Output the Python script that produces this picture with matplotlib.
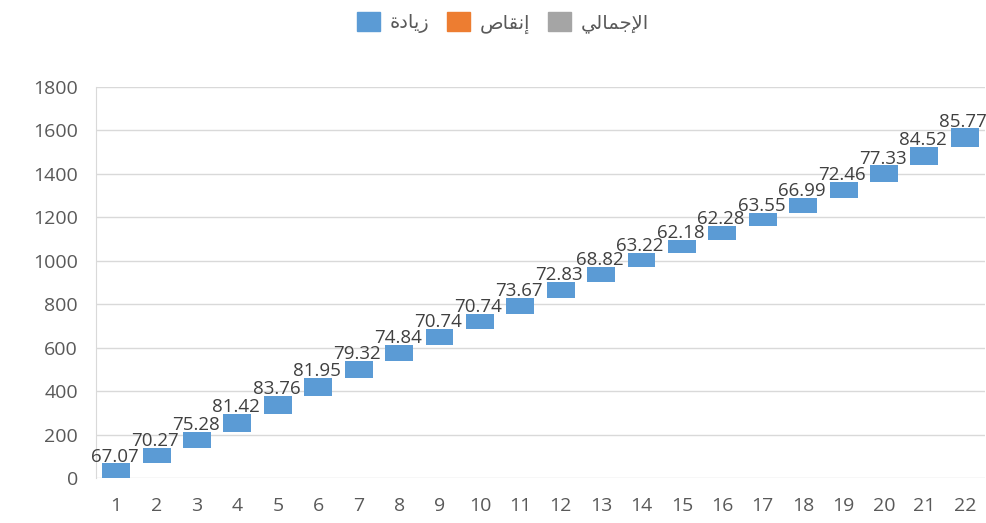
import matplotlib.pyplot as plt
from matplotlib.patches import Patch

# Waterfall data (increments per step)

steps = list(range(1, 23))
increments = [67.07, 70.27, 75.28, 81.42, 83.76, 81.95, 79.32, 74.84, 70.74, 70.74,
              73.67, 72.83, 68.82, 63.22, 62.18, 62.28, 63.55, 66.99, 72.46, 77.33,
              84.52, 85.77]
y_ticks = [0, 200, 400, 600, 800, 1000, 1200, 1400, 1600, 1800]

# Legend labels, Arabic in presentation forms (visual order) since matplotlib has no shaping
legend_labels = ["\uFE93\uFEA9\uFE8E\uFEF3\uFEAF",              # زيادة
                 "\uFEB9\uFE8E\uFED8\uFEE7\uFE87",              # إنقاص
                 "\uFEF2\uFEDF\uFE8E\uFEE4\uFE9F\uFEF9\uFE8D"]  # الإجمالي

blue = "#5b9bd5"
orange = "#ed7d31"
gray = "#a5a5a5"

# Cumulative starts

bottoms = []
total = 0
for v in increments:
    bottoms.append(total)
    total += v

fig = plt.figure(figsize=(9.87, 5.23), dpi=100)
ax = fig.add_axes([96 / 987, 1 - 478 / 523, 889 / 987, (478 - 87) / 523])

ax.bar(steps, increments, bottom=bottoms, width=0.69, color=blue, zorder=3)

for x, b, v in zip(steps, bottoms, increments):
    ax.annotate(f"{v:.2f}", (x, b + v), xytext=(-1, -1.5), textcoords="offset points",
                ha="center", va="bottom", fontsize=13.5, color="#404040",
                family="Open Sans", zorder=4, annotation_clip=False)

ax.set_xlim(0.5, 22.5)
ax.set_ylim(0, 1800)
ax.set_yticks(y_ticks)
ax.set_xticks(steps)
ax.grid(axis="y", color="#d9d9d9", linewidth=1, zorder=0)
ax.tick_params(axis="both", length=0, labelsize=14, labelcolor="#595959")
ax.tick_params(axis="y", pad=13)
ax.tick_params(axis="x", pad=14)
for lab in ax.get_xticklabels() + ax.get_yticklabels():
    lab.set_family("Open Sans")

for side in ["top", "right", "bottom"]:
    ax.spines[side].set_visible(False)
ax.spines["left"].set_color("#d9d9d9")

handles = [Patch(color=blue), Patch(color=orange), Patch(color=gray)]
fig.legend(handles, legend_labels, loc="center", bbox_to_anchor=(503 / 987, 1 - 23 / 523),
           ncol=3, frameon=False, handlelength=1.2, handleheight=1.1,
           handletextpad=0.5, columnspacing=0.9, labelcolor="#595959",
           prop={"family": "DejaVu Sans", "size": 14})

fig.savefig("out.png", dpi=100)
